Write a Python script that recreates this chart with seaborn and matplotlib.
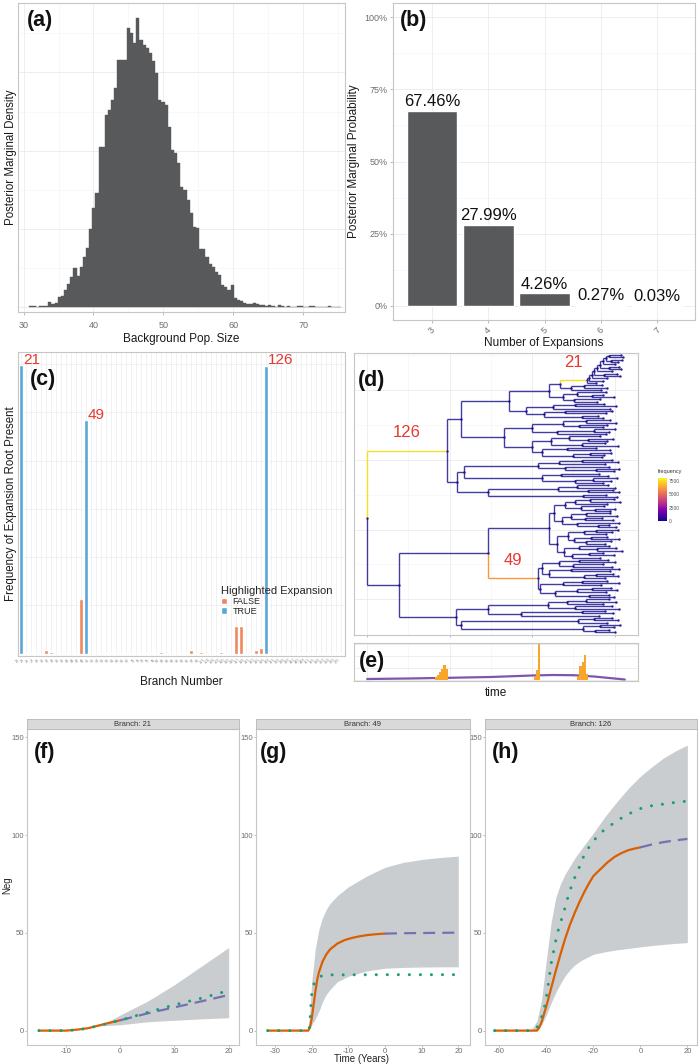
import numpy as np
import pandas as pd
import matplotlib
matplotlib.use("Agg")
import matplotlib.pyplot as plt
import seaborn as sns
from matplotlib.collections import LineCollection
from matplotlib.patches import Patch
from matplotlib import cm, colors as mcolors

# ======================= DATA =======================
# (a) posterior of background population size (histogram counts)
pop_bin_start = 30.825
pop_bin_width = 0.45
pop_counts = [2, 2, 0, 2, 3, 3, 14, 8, 12, 30,
              33, 52, 68, 90, 118, 92, 120, 150, 178, 232,
              295, 340, 480, 480, 575, 590, 620, 655, 740, 740,
              740, 835, 820, 790, 865, 800, 785, 775, 760, 735,
              700, 620, 615, 605, 540, 470, 460, 430, 360, 350,
              320, 280, 240, 235, 175, 175, 150, 130, 120, 105,
              95, 65, 60, 50, 65, 28, 22, 18, 12, 10,
              8, 12, 10, 6, 5, 4, 6, 3, 0, 5,
              2, 0, 2, 0, 0, 2, 2, 0, 0, 4,
              2, 0, 0, 0, 0, 2, 0, 0, 0]

# (b) number of expansions
n_expansions = ["3", "4", "5", "6", "7"]
n_expansions_prob = [0.6746, 0.2799, 0.0426, 0.0027, 0.0003]

# (c) frequency of expansion root per branch
branch_numbers = [21, 23, 25, 27, 28, 30, 32, 34, 36, 39, 41, 44, 47, 49,
                  51, 53, 54, 56, 58, 61, 63, 65, 67, 70, 72, 74, 76, 79, 81,
                  83, 86, 88, 90, 92, 95, 97, 99, 101, 104, 106, 108, 110, 113,
                  115, 117, 119, 121, 123, 125, 126,
                  128, 131, 133, 136, 139, 142, 145, 148, 151, 155, 158, 162,
                  166, 170, 175]
branch_freq = [7480, 15, 20, 5, 8, 90, 35, 3, 2, 4, 3, 5, 1410, 6040,
               3, 2, 2, 12, 15, 10, 14, 12, 10, 3, 12, 14, 12, 10, 45,
               4, 3, 2, 14, 12, 105, 30, 35, 3, 4, 30, 45, 6, 4,
               705, 705, 3, 5, 105, 155, 7460,
               3, 2, 3, 12, 14, 10, 20, 25, 12, 3, 2, 4,
               3, 12, 14]
highlighted_branches = [21, 49, 126]

# (d) time tree: internal node = [time, child, child, ...], tip = time,
#     ("label", node) marks a numbered highlighted branch
clade21 = [53.3,
           [53.9,
            [54.5,
             [55.1,
              [55.8,
               [56.5,
                [57.2,
                 [57.9, [58.6, 61.5, 62.0], [59.2, 61.8, 60.9]],
                 60.2],
                [58.6, 61.2, 61.6]],
               59.4],
              [57.5, 60.6, 61.3]],
             58.2],
            57.1],
           55.6]
clade_B1 = [34.3,
            [44.0,
             [46.8, ("21", clade21), [49.5, [52.5, 57.0, 58.2], 56.8]],
             [47.5, [51.0, 58.0, [54.5, 57.2, 59.8]], [50.2, 56.5, 55.8]]],
            [38.5,
             [45.0, [50.5, 57.4, 60.3], 58.9],
             [43.0, [48.0, 59.5, 58.0], [52.0, 56.0, 57.3]]]]
clade_B2 = [33.3,
            [40.0,
             [47.5, [53.0, 59.0, 60.4], [51.5, 58.3, 57.1]],
             [46.0, [55.0, 60.0, 58.7], 57.9]],
            [40.0,
             [44.5, [49.0, 56.4, [53.5, 59.6, 58.1]], [52.0, 57.7, 60.8]],
             [42.5, [48.5, 55.6, 58.8], [50.0, [54.0, 59.1, 57.4], 56.9]]]]
clade_C = [21.7,
           [23.4,
            [41.5, [46.5, [52.0, 59.3, 60.9], 57.8], [48.0, 58.6, [55.5, 61.0, 59.9]]],
            [42.5, [47.0, 56.2, 58.4], [50.5, [54.8, 60.5, 59.2], 57.3]]],
           [29.4,
            [46.4, [51.0, 58.5, 60.1], [53.5, 59.6, 61.2]],
            [52.3, 58.0, 60.7]]]
clade126 = [19.3, [22.8, clade_B1, clade_B2], clade_C]
clade_L1a = [44.0,
             [45.3,
              [48.0,
               [50.5, [54.0, 59.8, 61.4], 58.2],
               [51.8, 57.5, [55.2, 60.1, 59.0]]],
              [47.2,
               [49.5, [53.2, 58.9, 60.6], [52.8, 57.0, 59.7]],
               [51.0, 61.0, [56.0, 58.6, 60.3]]]],
             [46.0,
              [48.8,
               [52.5, [55.5, 60.8, 59.4], 57.9],
               [50.2, [54.4, 58.1, 61.1], [53.0, 59.2, 57.6]]],
              [47.8,
               [51.3, 58.7, [55.8, 60.4, 61.7]],
               [49.8, [53.7, 57.3, 59.9], 56.5]]]]
clade49 = [41.5,
           [42.4,
            [46.5, [51.5, 58.4, 60.2], [50.0, 57.1, 59.5]],
            [44.0, [49.5, 61.0, 58.8], [52.5, [55.5, 59.7, 60.9], 57.6]]],
           [42.0,
            [47.5, [52.0, 58.3, 61.2], 56.8],
            [45.5, [50.8, [54.5, 59.1, 60.6], 57.9], [53.8, 58.6, 59.9]]]]
clade_L2 = [21.6,
            [29.3,
             [43.9, [48.5, [53.0, 58.7, 60.4], 57.2], [50.5, 59.3, 61.0]],
             [37.2, [52.0, 57.8, 59.6], 56.3]],
            [22.8,
             [51.1, [55.0, 59.4, 60.8], 58.1],
             [52.4, [56.5, 61.3, 59.9], [55.3, 58.6, 60.2]]]]
tree = [0.0, ("126", clade126), [7.6, [29.2, clade_L1a, ("49", clade49)], clade_L2]]

# (e) expansion-time histogram and trajectory
exp_time_centers = [16.75, 17.25, 17.75, 18.25, 18.75, 19.25,
                    40.75, 41.25, 41.75,
                    51.25, 51.75, 52.25, 52.75, 53.25]
exp_time_counts = [3, 5, 8, 11, 15, 11, 3, 10, 36, 4, 14, 18, 25, 6]
traj_time = [0, 10, 20, 30, 40, 45, 50, 55, 60, 62.5]
traj_value = [1.0, 1.5, 2.2, 3.0, 4.5, 5.0, 4.8, 3.5, 1.5, 0.5]

# (f) branch 21
b21_fit_t = [-15, -10, -8, -6, -4, -2, 0]
b21_fit = [0, 0, 0.5, 1.2, 2.6, 4.0, 5.3]
b21_pred_t = [0, 5, 10, 15, 20]
b21_pred = [5.3, 8.8, 11.9, 15.0, 18.2]
b21_true_t = [-15, -10, -8, -6, -4, -2, 0, 5, 10, 15, 20]
b21_true = [0, 0, 0.4, 1.2, 2.5, 3.9, 5.3, 9.3, 13.2, 16.6, 20.5]
b21_band_t = [-5, -4, -2, 0, 5, 10, 15, 20]
b21_band_lo = [2.0, 2.4, 2.7, 3.0, 4.5, 5.3, 6.0, 6.6]
b21_band_hi = [2.0, 2.8, 5.0, 8.0, 15.0, 23.5, 33.0, 42.5]

# (g) branch 49
b49_fit_t = [-32, -25, -21, -20.5, -20, -19.5, -19, -18.5, -18, -17, -16, -15,
             -13, -11, -9, -7, -5, -3, -1, 0]
b49_fit = [0, 0, 0, 1.5, 6, 13, 20, 26, 30, 35.5, 39, 41.5,
           44.5, 46.3, 47.4, 48.2, 48.8, 49.2, 49.5, 49.6]
b49_pred_t = [0, 5, 10, 15, 20]
b49_pred = [49.6, 49.8, 49.9, 50.0, 50.1]
b49_true_t = [-32, -20.8, -20.5, -20.3, -20.1, -19.7, -19, -18, -17, -15, 0, 20]
b49_true = [0, 0, 3, 10, 17, 22.5, 25.5, 27.3, 28.2, 28.5, 28.6, 28.6]
b49_band_t = [-21, -20.5, -20, -19, -18, -17, -16, -15, -13, -10, -5, 0, 5, 10, 15, 20]
b49_band_lo = [0, 1, 3, 6, 10, 15, 18.5, 21, 25, 27.8, 30.5, 31.9, 32.3, 32.5, 32.6, 32.6]
b49_band_hi = [0, 10, 25, 42, 52, 58, 62, 65, 69, 73.5, 79, 83.5, 86, 87.5, 88.5, 89.2]

# (h) branch 126
b126_fit_t = [-62, -50, -44, -43, -42, -41, -40, -38, -36, -34, -32, -30, -28,
              -26, -24, -22, -20, -17, -14, -11, -8, -5, -2, 0]
b126_fit = [0, 0, 0, 1.5, 4.5, 8.5, 12.5, 21.5, 30.5, 39, 47, 54, 60,
            65.5, 70.5, 75, 79, 82.5, 86, 88.8, 90.8, 92.3, 93.2, 93.7]
b126_pred_t = [0, 5, 10, 15, 20]
b126_pred = [93.7, 95.2, 96.4, 97.3, 98.0]
b126_true_t = [-62, -46, -45, -44, -43, -42, -41, -40, -39, -38, -37, -36, -35,
               -34, -33, -32, -31, -30, -28, -26, -24, -22, -20, -18, -15, -12,
               -9, -6, -3, 0, 4, 8, 12, 17, 20]
b126_true = [0, 0, 0.5, 1.5, 4, 7, 11, 17, 25, 34, 40, 46, 51,
             55, 59, 63, 67.5, 71.5, 78, 83.5, 89.5, 93.5, 96.8, 99.8, 103, 105.5,
             108, 110, 112, 113.5, 114.8, 115.5, 116.2, 117, 117.3]
b126_band_t = [-48, -46, -44, -42, -40, -38, -36, -34, -32, -30, -28, -25, -20,
               -15, -10, -5, 0, 5, 10, 15, 20]
b126_band_lo = [0, 0, 0.5, 3, 8, 14, 19.5, 24, 28, 31, 33.5, 36, 39,
                40.3, 41.3, 42, 42.8, 43.5, 44.1, 44.6, 45]
b126_band_hi = [0, 1, 5, 16, 36, 55, 68, 75, 80, 84, 88, 93, 101,
                109.5, 117, 124, 130, 135, 139.5, 143, 146]

# ======================= STYLE =======================
sns.set_theme(style="white")
plt.rcParams['font.family'] = ['Liberation Sans', 'DejaVu Sans']
plt.rcParams['axes.unicode_minus'] = False

W, H = 700, 1064
fig = plt.figure(figsize=(W / 100, H / 100), dpi=100)


def add_ax(l, t, r, b):
    return fig.add_axes([l / W, 1 - b / H, (r - l) / W, (b - t) / H])


BORDER = "#C6C6C6"
GRID = "#EBEBEB"
GRID_MINOR = "#F4F4F4"
TICKLAB = "#6E6E6E"
BAR = "#58595B"
RED = "#E8392F"
FALSE_C = "#F0875F"
TRUE_C = "#5AA6D7"
ORANGE = "#D95F02"
PURPLE = "#7570B3"
GREEN = "#1B9E77"
RIBBON = "#CACDD0"


def bw(ax, labelsize=6.5):
    for s in ax.spines.values():
        s.set_visible(True)
        s.set_color(BORDER)
        s.set_linewidth(0.8)
    ax.tick_params(which='both', color="#A0A0A0", labelcolor=TICKLAB,
                   labelsize=labelsize, width=0.5)


def grid(ax):
    ax.grid(True, which='major', color=GRID, lw=0.6)
    ax.grid(True, which='minor', color=GRID_MINOR, lw=0.4)
    ax.set_axisbelow(True)


def panel_label(ax, x, y, s):
    ax.text(x, y, s, transform=ax.transAxes, ha='left', va='top',
            fontsize=15.5, fontweight='bold', color='#111111', zorder=10)


# ======================= (a) =======================
axa = add_ax(18, 3, 345, 312)
centers = pop_bin_start + pop_bin_width * (np.arange(len(pop_counts)) + 0.5)
sns.histplot(x=centers, weights=np.asarray(pop_counts, dtype=float),
             binwidth=pop_bin_width,
             binrange=(pop_bin_start, pop_bin_start + pop_bin_width * len(pop_counts)),
             color=BAR, alpha=1, edgecolor=BAR, linewidth=0.3, ax=axa)
axa.set_xlim(29.2, 76.0)
axa.set_ylim(-15, 910)
axa.set_xticks([30, 40, 50, 60, 70])
axa.set_xticks([35, 45, 55, 65, 75], minor=True)
axa.set_yticks(np.arange(0, 910, 234))
axa.set_yticks(np.arange(117, 910, 234), minor=True)
axa.set_yticklabels([])
bw(axa)
grid(axa)
axa.tick_params(axis='y', which='both', length=0, pad=0)
axa.tick_params(axis='x', which='major', bottom=True, length=2.5, pad=4)
axa.tick_params(axis='x', which='minor', length=0)
axa.set_xlabel("Background Pop. Size", fontsize=8.5, labelpad=2.5, color='#1A1A1A')
axa.set_ylabel("Posterior Marginal Density", fontsize=8.3, labelpad=1, color='#1A1A1A')
panel_label(axa, 0.027, 0.978, "(a)")

# ======================= (b) =======================
axb = add_ax(393, 3, 695, 320)
sns.barplot(x=n_expansions, y=n_expansions_prob, color=BAR, saturation=1,
            width=0.9, ax=axb)
for i, p in enumerate(n_expansions_prob):
    axb.text(i, p + 0.006, f"{p * 100:.2f}%", ha='center', va='bottom',
             fontsize=12, color='#111111')
axb.set_ylim(-0.05, 1.05)
axb.set_xlim(-0.69, 4.67)
axb.set_yticks([0, .25, .5, .75, 1])
axb.set_yticklabels(["0%", "25%", "50%", "75%", "100%"])
axb.set_yticks([.125, .375, .625, .875], minor=True)
bw(axb)
axb.grid(True, which='major', color=GRID, lw=0.6)
axb.grid(True, which='minor', axis='y', color=GRID_MINOR, lw=0.4)
axb.set_axisbelow(True)
axb.tick_params(axis='both', which='major', bottom=True, left=True, length=2.5, pad=1.5)
axb.tick_params(axis='y', which='minor', length=0)
for lbl in axb.get_xticklabels():
    lbl.set_rotation(45)
    lbl.set_ha('center')
axb.set_xlabel("Number of Expansions", fontsize=8.5, labelpad=1, color='#1A1A1A')
axb.set_ylabel("Posterior Marginal Probability", fontsize=8.5, labelpad=3, color='#1A1A1A')
panel_label(axb, 0.023, 0.978, "(b)")

# ======================= (c) =======================
axc = add_ax(18, 352, 345, 656)
branch_labels = [str(b) for b in branch_numbers]
hl = ["TRUE" if b in highlighted_branches else "FALSE" for b in branch_numbers]
dfc = pd.DataFrame({"branch": branch_labels, "freq": branch_freq, "hl": hl})
sns.barplot(data=dfc, x="branch", y="freq", hue="hl", hue_order=["FALSE", "TRUE"],
            palette={"FALSE": FALSE_C, "TRUE": TRUE_C}, order=branch_labels,
            dodge=False, width=0.9, saturation=1, legend=False, ax=axc)
axc.set_xlim(-0.6, len(branch_labels) - 0.2)
axc.set_ylim(-60, 7810)
axc.set_yticks(np.arange(0, 7600, 1250))
axc.set_yticklabels([])
bw(axc, labelsize=2.8)
axc.grid(True, which='major', color=GRID, lw=0.5)
axc.set_axisbelow(True)
axc.tick_params(axis='y', length=0, pad=0)
axc.tick_params(axis='x', length=0, pad=1)
for lbl in axc.get_xticklabels():
    lbl.set_rotation(45)
    lbl.set_ha('right')
    lbl.set_color('#8A8A8A')
for b in highlighted_branches:
    i = branch_numbers.index(b)
    axc.text(i + 0.35, branch_freq[i] + 30, str(b), color=RED, fontsize=11,
             ha='left', va='baseline')
handles = [Patch(facecolor=FALSE_C, label="FALSE"), Patch(facecolor=TRUE_C, label="TRUE")]
axc.legend(handles=handles, title="Highlighted Expansion", loc='upper left',
           bbox_to_anchor=((221 - 18) / 327, 1 - (586 - 352) / 304), frameon=False,
           fontsize=6.5, title_fontsize=8, handlelength=0.7, handleheight=0.7,
           handletextpad=0.6, labelspacing=0.1, borderpad=0, borderaxespad=0,
           alignment='left')
axc.set_xlabel("Branch Number", fontsize=8.5, labelpad=8, color='#1A1A1A')
axc.set_ylabel("Frequency of Expansion Root Present", fontsize=8.3, labelpad=1,
               color='#1A1A1A')
panel_label(axc, 0.037, 0.945, "(c)")

# ======================= (d) tree =======================
branch_freq_map = {str(b): f for b, f in zip(branch_numbers, branch_freq)}
tip_count = [0]


def place(node):
    label = None
    if isinstance(node, tuple):
        label, node = node
    if not isinstance(node, list):
        tip_count[0] += 1
        return {'t': node, 'y': -tip_count[0], 'label': label, 'kids': []}
    kids = [place(c) for c in node[1:]]
    y = (kids[0]['y'] + kids[-1]['y']) / 2
    return {'t': node[0], 'y': y, 'label': label, 'kids': kids}


root = place(tree)
N = tip_count[0]


def shift(nd):
    nd['y'] += N + 1
    for c in nd['kids']:
        shift(c)


shift(root)

segs_plain, segs_hl, cols_hl, pts, hl_nodes = [], [], [], [], []


def collect(nd):
    pts.append((nd['t'], nd['y']))
    for c in nd['kids']:
        sg = [[(nd['t'], c['y']), (c['t'], c['y'])],
              [(nd['t'], nd['y']), (nd['t'], c['y'])]]
        if c['label'] is not None:
            segs_hl.extend(sg)
            cols_hl.extend([branch_freq_map[c['label']]] * 2)
            hl_nodes.append((nd, c))
        else:
            segs_plain.extend(sg)
        collect(c)


collect(root)

axd = add_ax(354, 353, 638, 635)
cmap = plt.get_cmap('plasma')
norm = mcolors.Normalize(0, 8000)
axd.add_collection(LineCollection(segs_plain, colors=[cmap(0.0)], linewidths=1.0,
                                  alpha=0.78, zorder=2))
axd.add_collection(LineCollection(segs_hl, colors=[cmap(norm(f)) for f in cols_hl],
                                  linewidths=1.0, zorder=3))
pts = np.array(pts)
axd.scatter(pts[:, 0], pts[:, 1], s=3, color=cmap(0.02), alpha=0.85, linewidths=0, zorder=4)
for p, c in hl_nodes:
    axd.annotate(c['label'], xy=((p['t'] + c['t']) / 2, c['y']), xytext=(0, 13),
                 textcoords='offset points', ha='center', va='center',
                 color=RED, fontsize=12)
s_px = 277 / (N - 1)
axd.set_xlim(-3.2, 65.7)
axd.set_ylim(1 - 3 / s_px, N + 2 / s_px)
axd.set_xticks([0, 20, 40, 60])
axd.set_xticks([10, 30, 50], minor=True)
axd.set_yticks(np.arange(15, N + 1, 30))
axd.set_yticks(np.arange(30, N + 1, 30), minor=True)
axd.set_xticklabels([])
axd.set_yticklabels([])
bw(axd)
grid(axd)
axd.tick_params(axis='x', which='major', bottom=True, length=1.5)
axd.tick_params(axis='x', which='minor', length=0)
axd.tick_params(axis='y', which='both', length=0)
panel_label(axd, 0.014, 0.94, "(d)")

cax = add_ax(658, 478, 667, 521)
cb = fig.colorbar(cm.ScalarMappable(norm=norm, cmap=cmap), cax=cax)
cb.set_ticks([0, 2500, 5000, 7500])
cb.ax.tick_params(labelsize=3.5, length=0, pad=1.5, labelcolor='#555555')
cb.outline.set_visible(False)
fig.text(658 / W, 1 - 472 / H, "frequency", fontsize=4, ha='left', va='center',
         color='#333333')

# ======================= (e) =======================
axe = add_ax(354, 643, 638, 681)
sns.lineplot(x=traj_time, y=traj_value, color="#7E57A8", lw=1.6, ax=axe, zorder=2)
sns.histplot(x=exp_time_centers, weights=np.asarray(exp_time_counts, dtype=float),
             binwidth=0.5, binrange=(0, 62.5), color="#F8A52B", alpha=1,
             linewidth=0, ax=axe, zorder=3)
axe.set_xlim(-3.2, 65.7)
axe.set_ylim(-1, 37)
axe.set_xticks([0, 20, 40, 60])
axe.set_xticks([10, 30, 50], minor=True)
axe.set_yticks([0, 12, 24, 36])
axe.set_xticklabels([])
axe.set_yticklabels([])
bw(axe)
grid(axe)
axe.tick_params(axis='both', which='both', length=0)
axe.set_ylabel("")
axe.set_xlabel("time", fontsize=8.5, labelpad=1, color='#1A1A1A')
panel_label(axe, 0.018, 0.78, "(e)")

# ======================= (f)(g)(h) =======================
facets = [
    ("21", 27, 239, (-17.2, 21.9), [-10, 0, 10, 20], "(f)", 0.033,
     b21_band_t, b21_band_lo, b21_band_hi, b21_fit_t, b21_fit,
     b21_pred_t, b21_pred, b21_true_t, b21_true),
    ("49", 256, 470, (-35.2, 23.2), [-30, -20, -10, 0, 10, 20], "(g)", 0.02,
     b49_band_t, b49_band_lo, b49_band_hi, b49_fit_t, b49_fit,
     b49_pred_t, b49_pred, b49_true_t, b49_true),
    ("126", 485, 697, (-66.1, 24.1), [-60, -40, -20, 0, 20], "(h)", 0.033,
     b126_band_t, b126_band_lo, b126_band_hi, b126_fit_t, b126_fit,
     b126_pred_t, b126_pred, b126_true_t, b126_true),
]
for (name, l, r, xl, xt, plab, plx, bt, blo, bhi, ft, fv, pt, pv, tt, tv) in facets:
    ax = add_ax(l, 729, r, 1045)
    ax.fill_between(bt, blo, bhi, color=RIBBON, lw=0, zorder=1)
    sns.lineplot(x=ft, y=fv, color=ORANGE, lw=1.6, ax=ax, zorder=3)
    sns.lineplot(x=pt, y=pv, color=PURPLE, lw=1.6, linestyle=(0, (5.4, 3.2)),
                 ax=ax, zorder=3)
    sns.lineplot(x=tt, y=tv, color=GREEN, lw=2.2, linestyle=(0, (0.01, 3.6)),
                 dash_capstyle='round', ax=ax, zorder=4)
    ax.set_xlim(*xl)
    ax.set_ylim(-7.35, 154.2)
    ax.set_xticks(xt)
    ax.set_yticks([0, 50, 100, 150])
    bw(ax, labelsize=5.5)
    ax.grid(False)
    ax.tick_params(axis='both', bottom=True, left=True, length=1.5, pad=0.8)
    ax.set_xlabel("")
    ax.set_ylabel("")
    panel_label(ax, plx, 0.958, plab)
    sax = add_ax(l, 719, r, 729)
    sax.set_facecolor("#D9D9D9")
    sax.set_xticks([])
    sax.set_yticks([])
    for s in sax.spines.values():
        s.set_visible(True)
        s.set_color("#BDBDBD")
        s.set_linewidth(0.7)
    sax.text(0.5, 0.45, f"Branch: {name}", ha='center', va='center', fontsize=5.5,
             color='#333333', transform=sax.transAxes)

fig.text(7 / W, 1 - 885 / H, "Neg", rotation=90, ha='center', va='center',
         fontsize=7, color='#222222')
fig.text(362 / W, 1 - 1059 / H, "Time (Years)", ha='center', va='center',
         fontsize=7, color='#222222')

fig.savefig("out.png", dpi=100, facecolor='white')
